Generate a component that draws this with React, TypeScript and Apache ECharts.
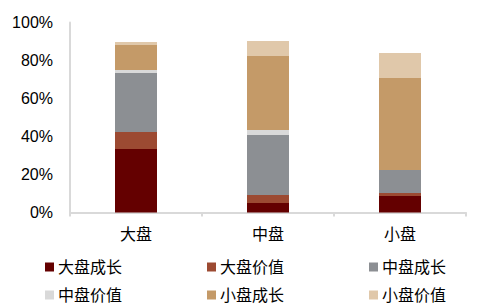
import React, { useEffect, useRef } from "react";
import * as echarts from "echarts";

const categories = ["大盘", "中盘", "小盘"];
const seriesNames = ["大盘成长", "大盘价值", "中盘成长", "中盘价值", "小盘成长", "小盘价值"];
const largeGrowth = [33.4, 5.0, 8.7];
const largeValue = [9.0, 4.2, 1.6];
const midGrowth = [31.0, 31.6, 12.1];
const midValue = [1.6, 2.6, 0];
const smallGrowth = [13.2, 39.0, 48.4];
const smallValue = [1.5, 7.9, 13.1];
const yTicks = [0, 20, 40, 60, 80, 100];
const colors = ["#640000", "#9C4A32", "#8C8F93", "#D9D9D9", "#C49A68", "#E0C8AA"];

export default function App() {
  const ref = useRef<HTMLDivElement>(null);
  useEffect(() => {
    document.body.style.margin = "0";
    const chart = echarts.init(ref.current!, null, { renderer: "svg" });
    const values = [largeGrowth, largeValue, midGrowth, midValue, smallGrowth, smallValue];
    const font = "'Liberation Sans', Arial, 'Noto Sans CJK SC', sans-serif";
    const legendCommon = {
      left: 45,
      itemWidth: 9,
      itemHeight: 9,
      itemGap: 85,
      icon: "rect",
      textStyle: { fontSize: 16, color: "#000", fontFamily: font, padding: [0, 0, 0, -1] },
      orient: "horizontal" as const,
      padding: 0,
    };
    chart.setOption({
      animation: false,
      color: colors,
      grid: { left: 70, right: 21, top: 22.5, bottom: 95.5 },
      legend: [
        { ...legendCommon, top: 259, data: seriesNames.slice(0, 3) },
        { ...legendCommon, top: 287, data: seriesNames.slice(3, 6) },
      ],
      xAxis: {
        type: "category",
        data: categories,
        axisLine: { lineStyle: { color: "#D9D9D9", width: 2 } },
        axisTick: { show: true, length: 4, lineStyle: { color: "#D9D9D9", width: 2 } },
        axisLabel: { fontSize: 16, color: "#000", fontFamily: font, margin: 14 },
      },
      yAxis: {
        type: "value",
        min: 0,
        max: 100,
        interval: 20,
        axisLine: { show: true, lineStyle: { color: "#D9D9D9", width: 2 } },
        axisTick: { show: false },
        splitLine: { show: false },
        axisLabel: {
          fontSize: 16,
          color: "#000",
          fontFamily: font,
          margin: 17,
          formatter: (v: number) => (yTicks.includes(v) ? v + "%" : ""),
        },
      },
      series: seriesNames.map((name, i) => ({
        name,
        type: "bar",
        stack: "total",
        barWidth: 42,
        data: values[i],
      })),
    });
    return () => chart.dispose();
  }, []);
  return <div ref={ref} style={{ width: 487, height: 308 }} />;
}
